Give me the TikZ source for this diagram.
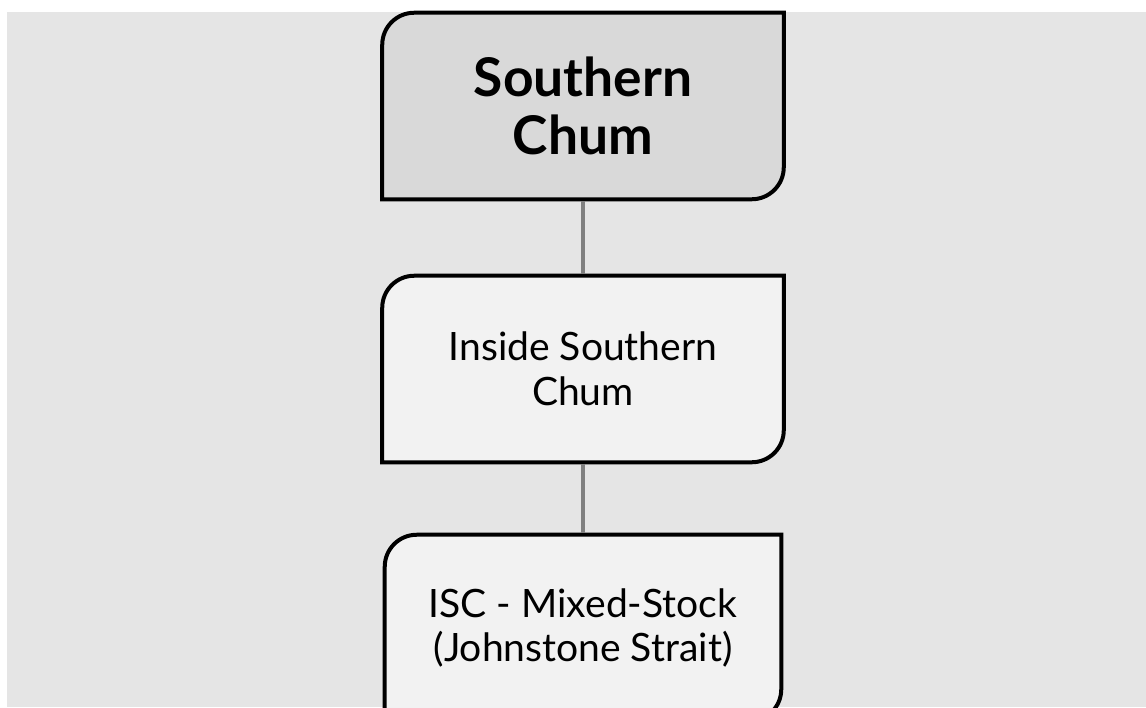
\documentclass[tikz,border=0pt]{standalone}
\usepackage{fontspec}
\setmainfont{Lato}
\usepackage{tikz}
\usetikzlibrary{backgrounds}

\definecolor{pagegray}{HTML}{E5E5E5}
\definecolor{topfill}{HTML}{D9D9D9}
\definecolor{subfill}{HTML}{F2F2F2}
\definecolor{linkgray}{HTML}{808080}

\begin{document}
\begin{tikzpicture}[
    x=0.75pt, y=-0.75pt,
    box/.style={
        rectangle, inner sep=0pt,
        minimum width=300.75pt, minimum height=139.5pt,
        align=center
    },
    frame/.style={draw=black, line width=3pt},
    link/.style={draw=linkgray, line width=3.2pt, shorten <=1.5pt, shorten >=1.5pt},
    headtxt/.style={font=\fontsize{40}{44}\selectfont\bfseries},
    subtxt/.style={font=\fontsize{29.3}{33.5}\selectfont}
]
\useasboundingbox (0,0) rectangle (1146,707);
\clip (0,0) rectangle (1146,707);

\node[box, headtxt] (sc) at (583, 106) {Southern\\Chum};
\node[box, subtxt] (isc) at (583, 369) {Inside Southern\\Chum};
\node[box, subtxt, minimum width=297pt] (mix) at (583, 628) {ISC - Mixed-Stock\\(Johnstone Strait)};

\begin{scope}[on background layer]
\fill[pagegray] (7,12) rectangle (1146,707);
\draw[frame, fill=topfill] ([xshift=24pt]sc.north west) -- (sc.north east) -- ([yshift=24pt]sc.south east) arc[start angle=0, end angle=-90, radius=24pt] -- (sc.south west) -- ([yshift=-24pt]sc.north west) arc[start angle=180, end angle=90, radius=24pt] -- cycle;
\foreach \n in {isc, mix}
    \draw[frame, fill=subfill] ([xshift=24pt]\n.north west) -- (\n.north east) -- ([yshift=24pt]\n.south east) arc[start angle=0, end angle=-90, radius=24pt] -- (\n.south west) -- ([yshift=-24pt]\n.north west) arc[start angle=180, end angle=90, radius=24pt] -- cycle;
\end{scope}

\draw[link] (sc) -- (isc);
\draw[link] (isc) -- (mix);
\end{tikzpicture}
\end{document}
